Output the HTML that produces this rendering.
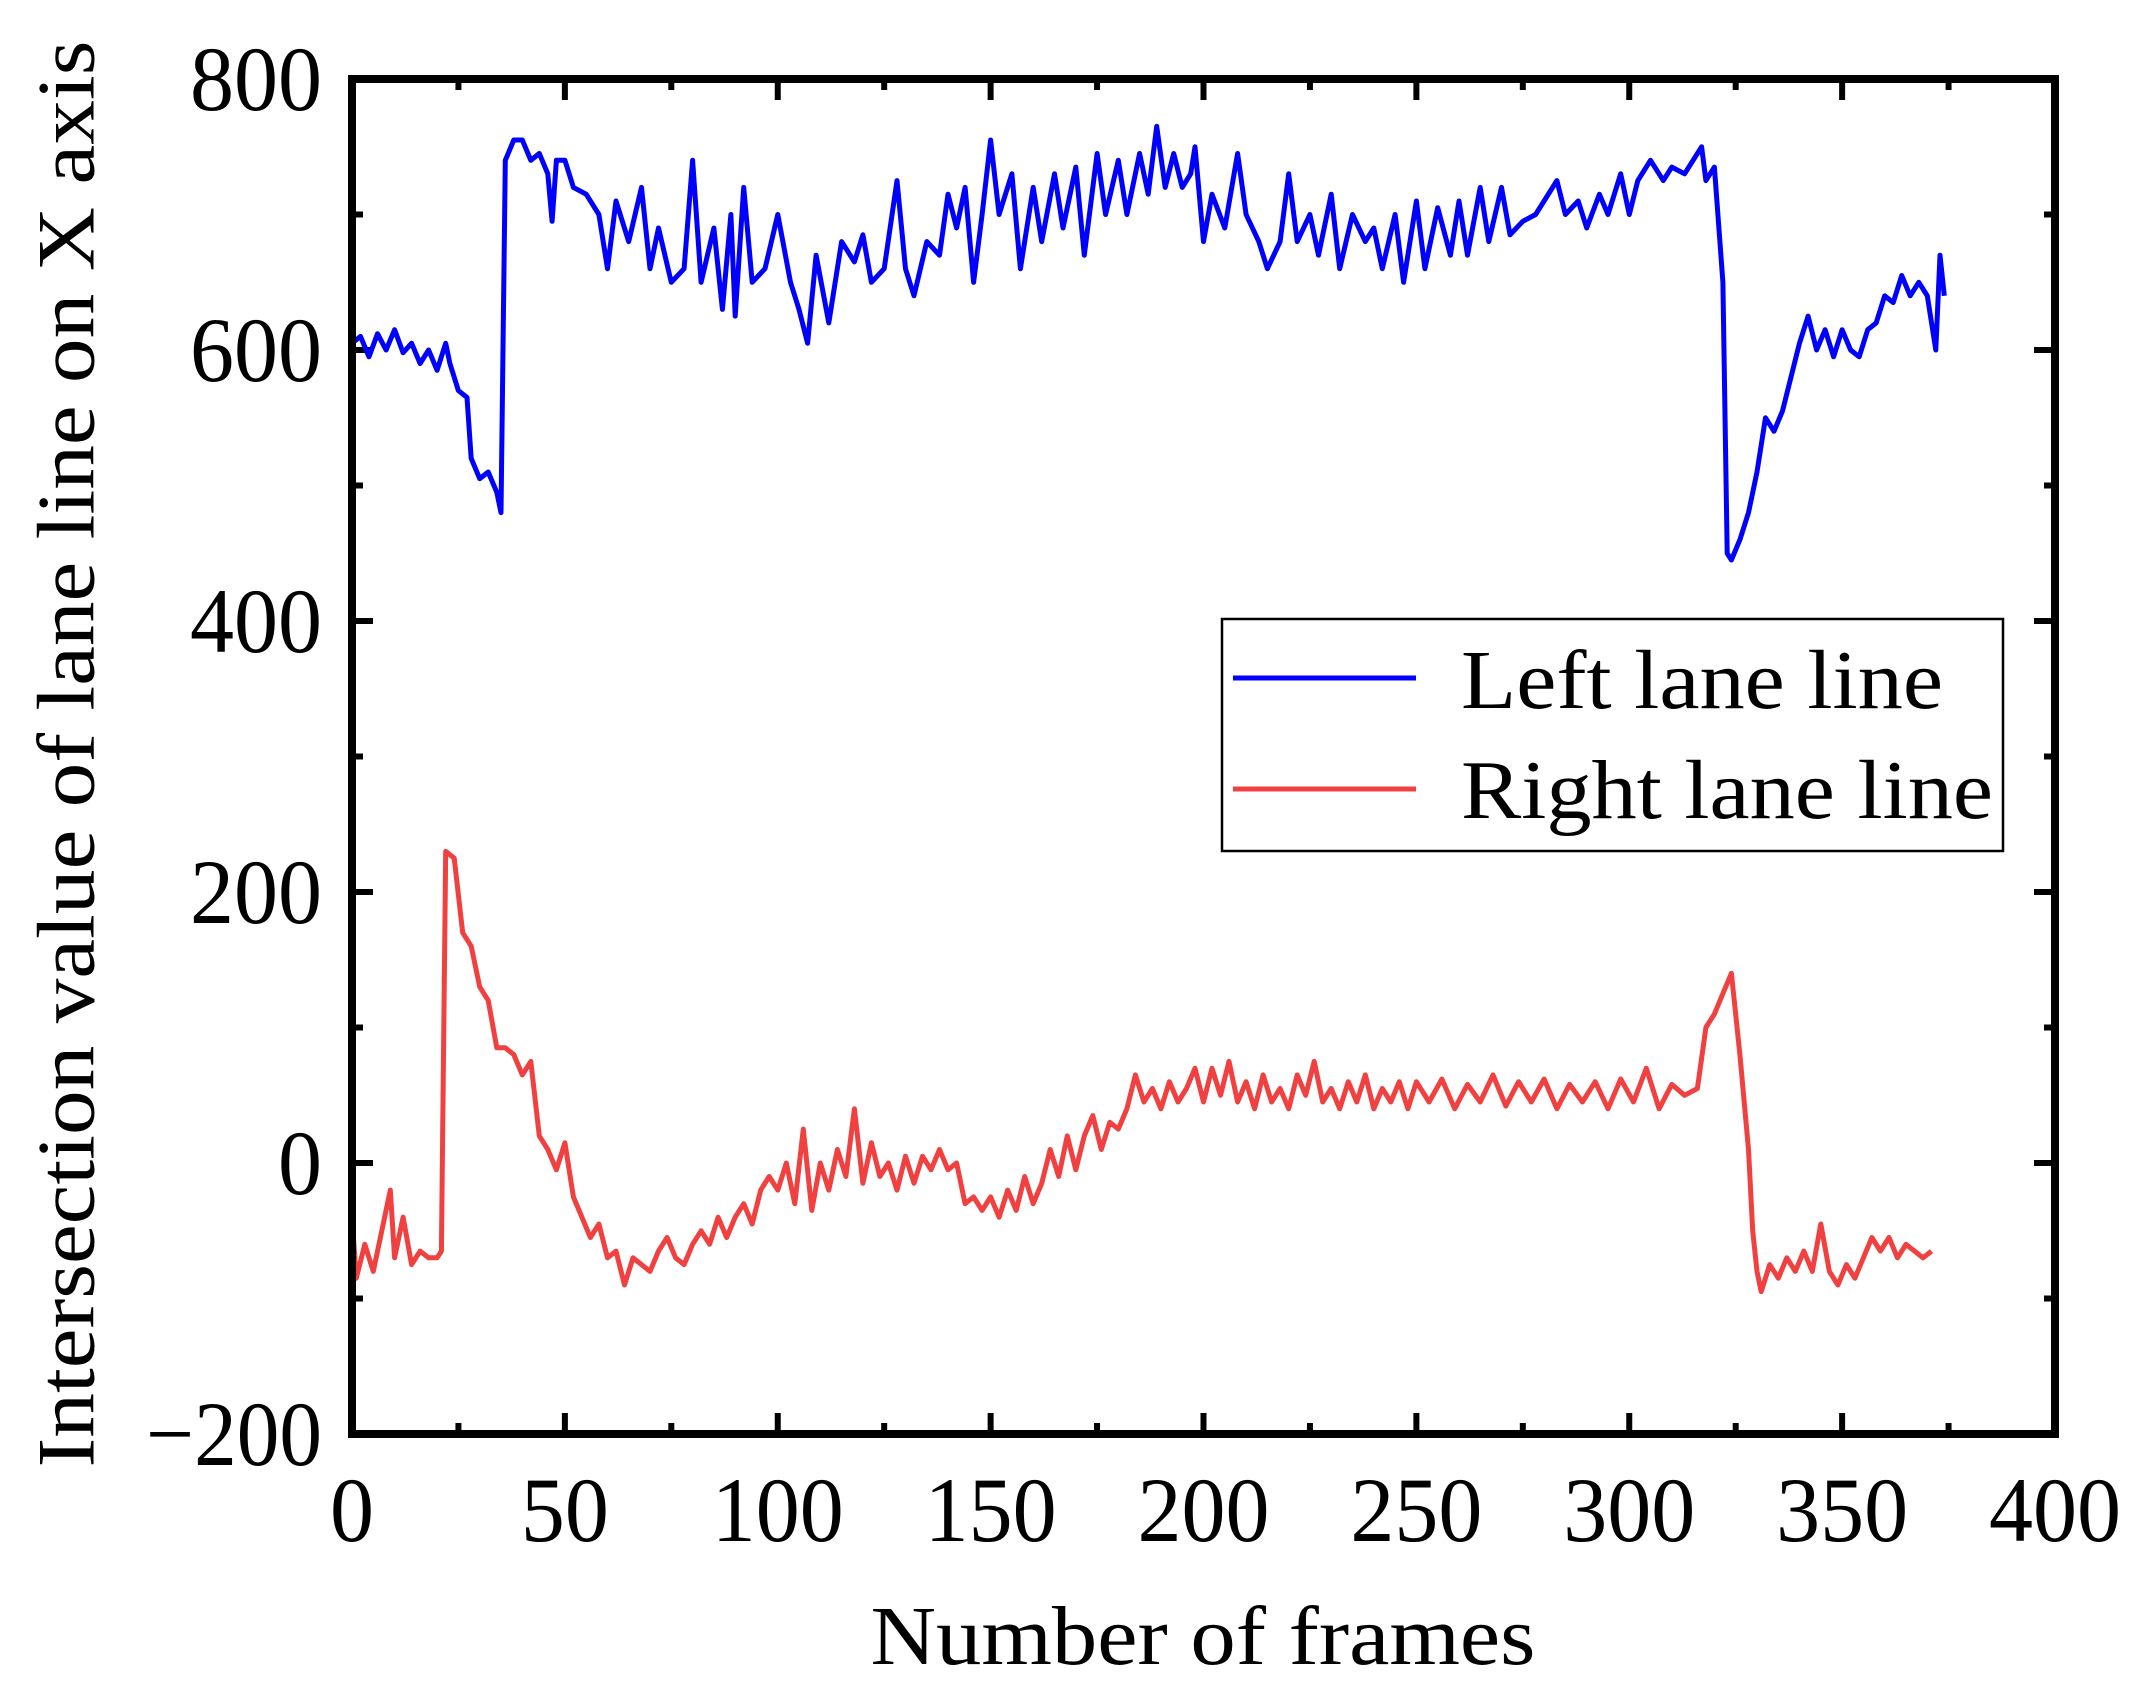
<!DOCTYPE html>
<html><head><meta charset="utf-8"><style>
html,body{margin:0;padding:0;background:#fff;}
svg{display:block;}
text{font-family:"Liberation Serif","DejaVu Serif",serif;fill:#000;}
</style></head><body>
<svg id="chart" width="2141" height="1693" viewBox="0 0 2141 1693" xmlns="http://www.w3.org/2000/svg">
<rect x="0" y="0" width="2141" height="1693" fill="#fff"/>
<g id="ticks"></g>
<g id="series"></g>
<rect x="352" y="79" width="1703" height="1355" fill="none" stroke="#000" stroke-width="8"/>
<text x="66" y="754" font-size="82" text-anchor="middle" dominant-baseline="central" transform="rotate(-90 66 754)" textLength="1427" lengthAdjust="spacingAndGlyphs">Intersection value of lane line on X axis</text>
<text x="1203" y="1664" font-size="84" text-anchor="middle" textLength="665" lengthAdjust="spacingAndGlyphs">Number of frames</text>
<g>
<rect x="1222" y="619" width="781" height="232" fill="#fff" stroke="#000" stroke-width="2.5"/>
<line x1="1233" y1="678" x2="1416" y2="678" stroke="#0000ff" stroke-width="5"/>
<text x="1461" y="708" font-size="84" textLength="482" lengthAdjust="spacingAndGlyphs">Left lane line</text>
<line x1="1233" y1="789" x2="1416" y2="789" stroke="#f04040" stroke-width="5"/>
<text x="1461" y="818" font-size="84" textLength="532" lengthAdjust="spacingAndGlyphs">Right lane line</text>
</g>
</svg>
<script>
const xTicks = [0,50,100,150,200,250,300,350,400];
const yTicks = [-200,0,200,400,600,800];
const leftFrames = [0,2,4,6,8,10,12,14,16,18,20,22,23,25,27,28,30,32,34,35,36,38,40,42,44,46,47,48,50,52,55,58,60,62,65,68,70,72,75,78,80,82,85,87,89,90,92,94,97,100,103,105,107,109,112,115,118,120,122,125,128,130,132,135,138,140,142,144,146,148,150,152,155,157,160,162,165,167,170,172,175,177,180,182,185,187,189,191,193,195,197,198,200,202,205,208,210,213,215,218,220,222,225,227,230,232,235,238,240,242,245,247,250,252,255,258,260,262,265,267,270,272,275,278,280,283,285,288,290,293,295,298,300,302,305,308,310,313,315,317,318,320,322,323,324,326,328,330,332,334,336,338,340,342,344,346,348,350,352,354,356,358,360,362,364,366,368,370,372,373,374];
const leftValues = [605,610,595,612,600,615,598,605,590,600,585,605,590,570,565,520,505,510,495,480,740,755,755,740,745,730,695,740,740,720,715,700,660,710,680,720,660,690,650,660,740,650,690,630,700,625,720,650,660,700,650,630,605,670,620,680,665,685,650,660,725,660,640,680,670,715,690,720,650,700,755,700,730,660,720,680,730,690,735,670,745,700,740,700,745,715,765,720,745,720,730,750,680,715,690,745,700,680,660,680,730,680,700,670,715,660,700,680,690,660,700,650,710,660,705,670,710,670,720,680,720,685,695,700,710,725,700,710,690,715,700,730,700,725,740,725,735,730,740,750,725,735,650,450,445,460,480,510,550,540,555,580,605,625,600,615,595,615,600,595,615,620,640,635,655,640,650,640,600,670,640];
const rightFrames = [0,1,3,5,7,9,10,12,14,16,18,20,21,22,24,26,28,30,32,34,36,38,40,42,44,46,48,50,52,54,56,58,60,62,64,66,68,70,72,74,76,78,80,82,84,86,88,90,92,94,96,98,100,102,104,106,108,110,112,114,116,118,120,122,124,126,128,130,132,134,136,138,140,142,144,146,148,150,152,154,156,158,160,162,164,166,168,170,172,174,176,178,180,182,184,186,188,190,192,194,196,198,200,202,204,206,208,210,212,214,216,218,220,222,224,226,228,230,232,234,236,238,240,242,244,246,248,250,253,256,259,262,265,268,271,274,277,280,283,286,289,292,295,298,301,304,307,310,313,316,318,320,322,324,326,328,329,330,331,333,335,337,339,341,343,345,347,349,351,353,355,357,359,361,363,365,367,369,371,373,374];
const rightValues = [-40,-85,-60,-80,-50,-20,-70,-40,-75,-65,-70,-70,-65,230,225,170,160,130,120,85,85,80,65,75,20,10,-5,15,-25,-40,-55,-45,-70,-65,-90,-70,-75,-80,-65,-55,-70,-75,-60,-50,-60,-40,-55,-40,-30,-45,-20,-10,-20,0,-30,25,-35,0,-20,10,-10,40,-15,15,-10,0,-20,5,-15,5,-5,10,-5,0,-30,-25,-35,-25,-40,-20,-35,-10,-30,-15,10,-10,20,-5,20,35,10,30,25,40,65,45,55,40,60,45,55,70,45,70,50,75,45,60,40,65,45,55,40,65,50,75,45,55,40,60,45,65,40,55,45,60,40,60,45,62,40,58,45,65,42,60,45,62,40,58,45,60,40,62,45,70,40,58,50,55,100,110,125,140,80,10,-50,-80,-95,-75,-85,-70,-80,-65,-80,-45,-80,-90,-75,-85,-70,-55,-65,-55,-70,-60,-65,-70,-65];

const PL=352, PR=2055, PT=79, PB=1434;
const xMin=0, xMax=400, yMin=-200, yMax=800;
function sx(v){return PL+(v-xMin)/(xMax-xMin)*(PR-PL);}
function sy(v){return PB-(v-yMin)/(yMax-yMin)*(PB-PT);}
const NS='http://www.w3.org/2000/svg';
const tg=document.getElementById('ticks');
function mk(tag,attrs,parent){const e=document.createElementNS(NS,tag);for(const k in attrs)e.setAttribute(k,attrs[k]);parent.appendChild(e);return e;}
function lw(s){return s.length*44 - (s.length>3?0:0);}

xTicks.forEach((t,i)=>{
  const x=sx(t);
  const a=mk('line',{x1:x,y1:PB,x2:x,y2:PB-21,stroke:'#000','stroke-width':6},tg);
  
  
  const b=mk('line',{x1:x,y1:PT,x2:x,y2:PT+21,stroke:'#000','stroke-width':6},tg);
  
  
  if(i<xTicks.length-1){
    const xm=sx(t+25);
    const c=mk('line',{x1:xm,y1:PB,x2:xm,y2:PB-11,stroke:'#000','stroke-width':6},tg);
    
    
    const d=mk('line',{x1:xm,y1:PT,x2:xm,y2:PT+11,stroke:'#000','stroke-width':6},tg);
    
    
  }
  const s=String(t);
  const lb=mk('text',{x:x,y:1541,'font-size':92,'text-anchor':'middle',textLength:lw(s),lengthAdjust:'spacingAndGlyphs'},tg);
  lb.textContent=s;
  
  
});
yTicks.forEach((t,i)=>{
  const y=sy(t);
  const a=mk('line',{x1:PL,y1:y,x2:PL+21,y2:y,stroke:'#000','stroke-width':6},tg);
  
  
  const b=mk('line',{x1:PR,y1:y,x2:PR-21,y2:y,stroke:'#000','stroke-width':6},tg);
  
  
  if(i<yTicks.length-1){
    const ym=sy(t+100);
    const c=mk('line',{x1:PL,y1:ym,x2:PL+11,y2:ym,stroke:'#000','stroke-width':6},tg);
    
    
    const d=mk('line',{x1:PR,y1:ym,x2:PR-11,y2:ym,stroke:'#000','stroke-width':6},tg);
    
    
  }
  const s=(t<0?'\u2212'+(-t):String(t));
  const lb=mk('text',{x:322,y:y+31,'font-size':92,'text-anchor':'end',textLength:lw(s),lengthAdjust:'spacingAndGlyphs'},tg);
  lb.textContent=s;
  
  
});

const sg=document.getElementById('series');
function drawLine(fr,vals,color,name){
  let d='';
  for(let i=0;i<fr.length;i++){d+=(i?'L':'M')+sx(fr[i]).toFixed(1)+' '+sy(vals[i]).toFixed(1);}
  const p=mk('path',{d:d,fill:'none',stroke:color,'stroke-width':5,'stroke-linejoin':'round'},sg);
  
  
}
drawLine(leftFrames,leftValues,'#0000ff','left-lane-line');
drawLine(rightFrames,rightValues,'#f04040','right-lane-line');
</script>
</body></html>
